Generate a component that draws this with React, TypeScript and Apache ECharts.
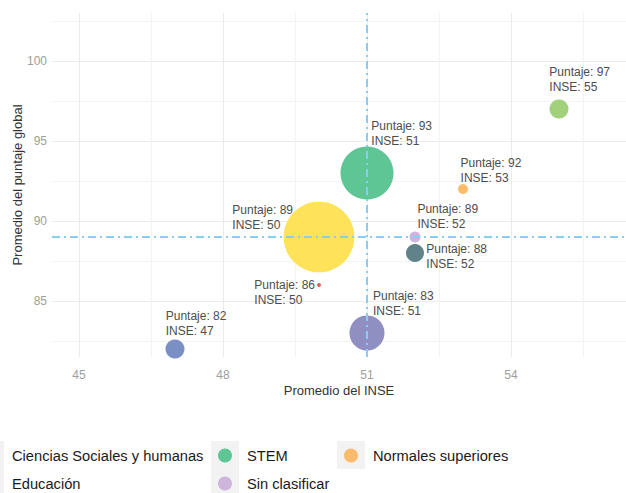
import React, { useEffect, useRef } from "react";
import * as echarts from "echarts";

// ---- Data ----
const categorias = [
  "Ciencias de la salud",
  "STEM",
  "Normales superiores",
  "Educación",
  "Sin clasificar",
  "Economía y administración",
  "Bellas artes",
  "Ciencias Sociales y humanas",
  "Agronomía y veterinaria",
];
const inse = [55, 51, 53, 50, 52, 52, 50, 51, 47];
const puntaje = [97, 93, 92, 89, 89, 88, 86, 83, 82];
const estudiantes = [361, 2809, 100, 5000, 121, 324, 16, 1225, 361];

const xTicks = [45, 48, 51, 54];
const xMinorTicks = [46.5, 49.5, 52.5, 55.5];
const yTicks = [85, 90, 95, 100];
const yMinorTicks = [82.5, 87.5, 92.5, 97.5, 102.5];

const promedioInse = 51;
const promedioPuntaje = 89;

const legendItems = [
  "Ciencias Sociales y humanas",
  "STEM",
  "Normales superiores",
  "Educación",
  "Sin clasificar",
];

// ---- Styles / layout ----
const colores = [
  "#a3d17b",
  "#5ec594",
  "#fbbb6b",
  "#fde25a",
  "#cdb5dd",
  "#5f8389",
  "#f05a5a",
  "#8f8fc1",
  "#7a8fc4",
];
const labelOffsets = [
  [-9.7, -44.7],
  [4.3, -54.3],
  [-2.4, -33.5],
  [-86.7, -34.7],
  [2.4, -35.5],
  [11.3, -11.7],
  [-64.7, -8],
  [6, -45],
  [-9.3, -40.5],
];
const legendPos = [
  [-10, 455],
  [225, 455],
  [351, 455],
  [-10, 483],
  [225, 483],
];
const FONT = "'Liberation Sans', Arial, Helvetica, sans-serif";
const X_MIN = 44.4375;
const X_MAX = 56.396;
const Y_MIN = 81.5;
const Y_MAX = 103;

export default function App() {
  const ref = useRef<HTMLDivElement>(null);
  useEffect(() => {
    if (!ref.current) return;
    const chart = echarts.init(ref.current, undefined, { renderer: "svg" });

    const series: any[] = categorias.map((name, i) => ({
      type: "scatter",
      name,
      data: [[inse[i], puntaje[i]]],
      symbol: "circle",
      symbolSize: Math.sqrt(estudiantes[i]),
      itemStyle: { color: colores[i], opacity: 1 },
      emphasis: { disabled: true },
      z: 2,
      label: {
        show: true,
        position: "inside",
        align: "left",
        verticalAlign: "top",
        offset: labelOffsets[i],
        formatter: (p: any) => `Puntaje: ${p.value[1]}\nINSE: ${p.value[0]}`,
        fontSize: 12,
        lineHeight: 15,
        color: "#4d4d4d",
        fontFamily: FONT,
        textBorderWidth: 0,
      },
    }));
    series.push({
      type: "scatter",
      name: "_lines",
      data: [],
      z: 5,
      markLine: {
        silent: true,
        symbol: "none",
        animation: false,
        label: { show: false },
        lineStyle: { color: "#8ccbf2", width: 2, type: [8, 4, 2, 4], opacity: 1 },
        data: [{ xAxis: promedioInse }, { yAxis: promedioPuntaje }],
      },
    });

    const legends = legendItems.map((name, i) => ({
      data: [name],
      left: legendPos[i][0] - 7,
      top: legendPos[i][1] - 7,
      orient: "horizontal",
      itemWidth: 34,
      itemHeight: 14,
      icon: "circle",
      padding: 0,
      itemGap: 0,
      selectedMode: false,
      z: 5,
      textStyle: { fontSize: 14.67, color: "#1a1a1a", fontFamily: FONT },
    }));

    const graphics = legendPos.map(([cx, cy]) => ({
      type: "rect",
      shape: { x: cx - 14, y: cy - 14, width: 28, height: 28 },
      style: { fill: "#f2f2f2" },
      z: 0,
      silent: true,
    }));

    const option: any = {
      animation: false,
      textStyle: { fontFamily: FONT },
      grid: { left: 52, right: 0, top: 13, bottom: 136, containLabel: false, outerBoundsMode: "none" },
      xAxis: [
        {
          type: "value",
          min: X_MIN,
          max: X_MAX,
          name: "Promedio del INSE",
          nameLocation: "middle",
          nameGap: 27,
          nameMoveOverlap: false,
          nameTextStyle: { fontSize: 13, color: "#333333", fontFamily: FONT },
          axisLine: { show: false },
          axisTick: { show: false, customValues: xTicks },
          axisLabel: { customValues: xTicks, color: "#9e9e9e", fontSize: 12, margin: 12, fontFamily: FONT },
          splitLine: { show: true, lineStyle: { color: "#ebebeb", width: 1 } },
        },
        {
          type: "value",
          min: X_MIN,
          max: X_MAX,
          position: "bottom",
          axisLine: { show: false },
          axisTick: { show: false, customValues: xMinorTicks },
          axisLabel: { show: false },
          splitLine: { show: true, lineStyle: { color: "#f3f3f3", width: 1 } },
        },
      ],
      yAxis: [
        {
          type: "value",
          min: Y_MIN,
          max: Y_MAX,
          name: "Promedio del puntaje global",
          nameLocation: "middle",
          nameGap: 28,
          nameMoveOverlap: false,
          nameRotate: 90,
          nameTextStyle: { fontSize: 13, color: "#333333", fontFamily: FONT },
          axisLine: { show: false },
          axisTick: { show: false, customValues: yTicks },
          axisLabel: { customValues: yTicks, color: "#9e9e9e", fontSize: 12, margin: 5, fontFamily: FONT },
          splitLine: { show: true, lineStyle: { color: "#ebebeb", width: 1 } },
        },
        {
          type: "value",
          min: Y_MIN,
          max: Y_MAX,
          position: "left",
          axisLine: { show: false },
          axisTick: { show: false, customValues: yMinorTicks },
          axisLabel: { show: false },
          splitLine: { show: true, lineStyle: { color: "#f3f3f3", width: 1 } },
        },
      ],
      legend: legends,
      graphic: graphics,
      series,
    };
    chart.setOption(option);
    return () => chart.dispose();
  }, []);

  return (
    <div
      ref={ref}
      style={{ position: "fixed", left: 0, top: 0, width: 626, height: 493, background: "#ffffff" }}
    />
  );
}
